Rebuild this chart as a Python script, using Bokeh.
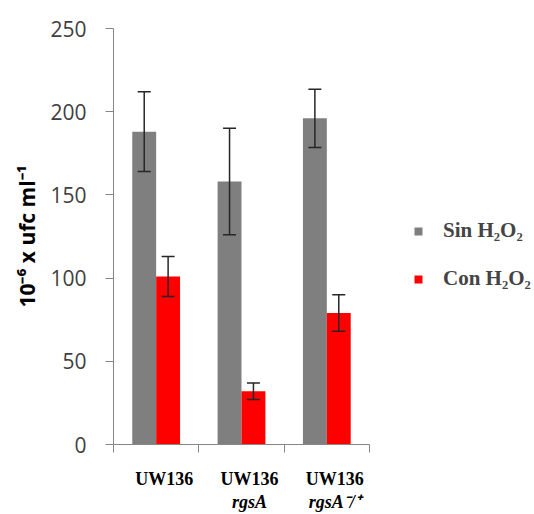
from bokeh.plotting import figure
from bokeh.models import (Range1d, FixedTicker, Whisker, ColumnDataSource, Legend,
                          LegendItem, TeeHead, LinearAxis)
from bokeh.embed import file_html
from bokeh.resources import INLINE

# ---- data ----
categories = ["UW136", "UW136", "UW136"]
sub_labels = ["", "rgsA", "rgsA\u207b/\u207a"]
series = ["Sin H\u2082O\u2082", "Con H\u2082O\u2082"]
sin_values = [188, 158, 196]
sin_err = [24, 32, 17.5]
con_values = [101, 32, 79]
con_err = [12, 5, 11]
y_ticks = [0, 50, 100, 150, 200, 250]

# ---- styling / layout ----
GRAY = "#7f7f7f"
RED = "#ff0000"
AXIS = "#868686"
BAR_W = 0.28
LABEL_SHIFT = 0.09375
W, H = 534, 514
LEFT, TOP, BOTTOM = 113, 28, 68
CAT_PX = 85.33           # pixel width of one category
n = len(categories)
x_max = (W - LEFT) / CAT_PX   # frame extends to the right edge (room for legend)

x_sin = [i + 0.5 - BAR_W / 2 for i in range(n)]
x_con = [i + 0.5 + BAR_W / 2 for i in range(n)]

src_sin = ColumnDataSource(dict(x=x_sin, top=sin_values,
                                upper=[v + e for v, e in zip(sin_values, sin_err)],
                                lower=[v - e for v, e in zip(sin_values, sin_err)]))
src_con = ColumnDataSource(dict(x=x_con, top=con_values,
                                upper=[v + e for v, e in zip(con_values, con_err)],
                                lower=[v - e for v, e in zip(con_values, con_err)]))

p = figure(width=W, height=H, x_range=Range1d(0, x_max), y_range=Range1d(0, 250),
           output_backend="svg", toolbar_location=None,
           min_border_left=LEFT, min_border_top=TOP, min_border_bottom=BOTTOM,
           min_border_right=0)
p.outline_line_color = None
p.xgrid.visible = False
p.ygrid.visible = False

r_sin = p.vbar(x="x", top="top", width=BAR_W, source=src_sin, fill_color=GRAY, line_color=None)
r_con = p.vbar(x="x", top="top", width=BAR_W, source=src_con, fill_color=RED, line_color=None)

for src in (src_sin, src_con):
    w = Whisker(base="x", upper="upper", lower="lower", source=src, level="overlay",
                line_color="#262626", line_width=1.5,
                upper_head=TeeHead(size=13, line_color="#262626", line_width=1.5),
                lower_head=TeeHead(size=13, line_color="#262626", line_width=1.5))
    p.add_layout(w)

# y axis
yax = p.yaxis[0]
yax.ticker = FixedTicker(ticks=y_ticks)
yax.minor_tick_line_color = None
yax.major_tick_in = 0
yax.major_tick_out = 8
yax.axis_line_color = AXIS
yax.major_tick_line_color = AXIS
yax.major_label_text_font = "Open Sans"
yax.major_label_text_font_size = "21px"
yax.major_label_text_color = "#404040"
yax.major_label_standoff = 19
yax.axis_label = "10\u207b\u2076 x ufc ml\u207b\u00b9"
yax.axis_label_text_font = "Open Sans"
yax.axis_label_text_font_style = "bold"
yax.axis_label_text_font_size = "21px"
yax.axis_label_text_color = "black"
yax.axis_label_standoff = 6

# x axis (category boundaries)
xax = p.xaxis[0]
xax.ticker = FixedTicker(ticks=list(range(n + 1)))
xax.bounds = (0, n)
xax.minor_tick_line_color = None
xax.major_tick_in = 0
xax.major_tick_out = 8
xax.axis_line_color = AXIS
xax.major_tick_line_color = AXIS
xax.major_label_standoff = 0
xax.major_label_text_font_size = "0px"
xax.major_label_overrides = {i: "" for i in range(n + 1)}

# category label rows as extra axes below
centers = [i + 0.5 + LABEL_SHIFT for i in range(n)]
row1 = LinearAxis(ticker=FixedTicker(ticks=centers),
                  major_label_overrides={c: t for c, t in zip(centers, categories)},
                  axis_line_color=None, major_tick_line_color=None, minor_tick_line_color=None,
                  major_label_standoff=10, major_label_text_font="Liberation Serif",
                  major_label_text_font_style="bold", major_label_text_font_size="18px",
                  major_label_text_color="black")
row2 = LinearAxis(ticker=FixedTicker(ticks=centers),
                  major_label_overrides={c: t for c, t in zip(centers, sub_labels)},
                  axis_line_color=None, major_tick_line_color=None, minor_tick_line_color=None,
                  major_label_standoff=-6, major_label_text_font="Liberation Serif",
                  major_label_text_font_style="bold italic", major_label_text_font_size="18px",
                  major_label_text_color="black")
p.add_layout(row1, "below")
p.add_layout(row2, "below")

legend = Legend(items=[LegendItem(label=series[0], renderers=[r_sin]),
                       LegendItem(label=series[1], renderers=[r_con])],
                location=(300, 153), padding=0, margin=0, spacing=23,
                glyph_width=10, glyph_height=10, label_standoff=20,
                label_text_font="Liberation Serif", label_text_font_style="bold",
                label_text_font_size="21px", label_height=23,
                border_line_color=None, background_fill_alpha=0)
p.add_layout(legend)

open("out.html", "w").write(file_html(p, INLINE))
